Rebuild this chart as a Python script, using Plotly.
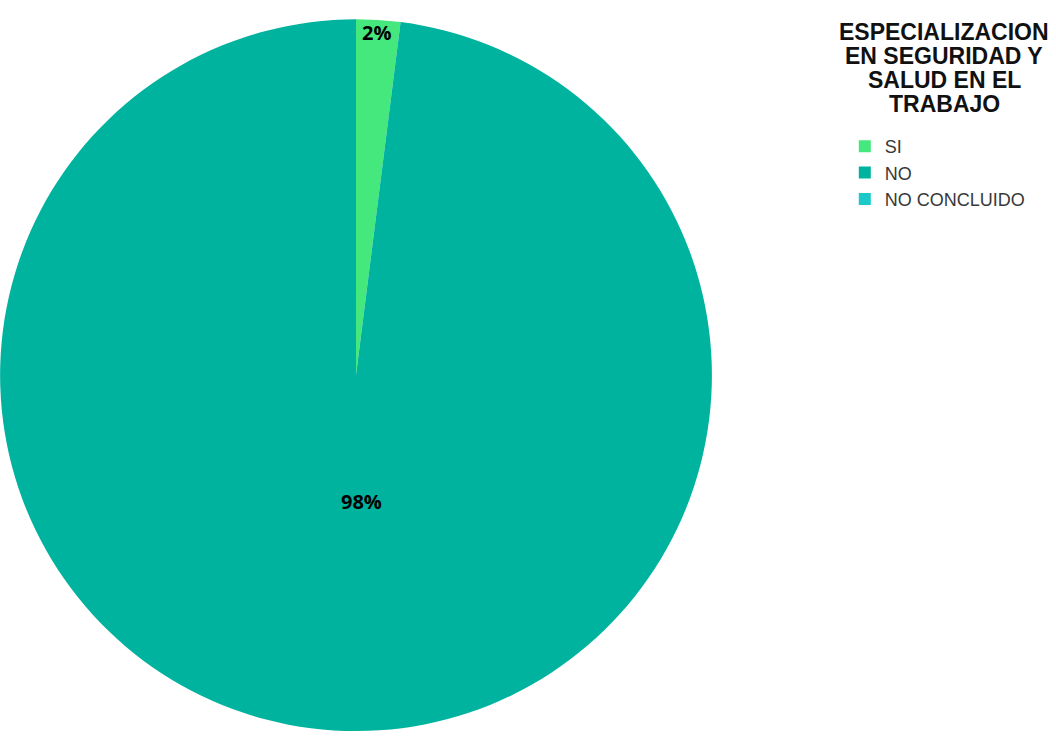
import plotly.graph_objects as go

# Specialization in occupational health & safety: share of respondents
categories = ["SI", "NO", "NO CONCLUIDO"]
shares = [2, 98, 0]
colors = ["#45E87C", "#00B39F", "#1BC9C9"]
title_lines = ["ESPECIALIZACION", "EN SEGURIDAD Y", "SALUD EN EL", "TRABAJO"]

W, H = 1056, 743

fig = go.Figure(
    go.Pie(
        labels=categories,
        values=shares,
        sort=False,
        direction="clockwise",
        rotation=0,
        marker=dict(colors=colors, line=dict(width=0)),
        textinfo="none",
        domain=dict(x=[0, 712 / W], y=[0.016, 0.974]),
        showlegend=True,
        hoverinfo="label+percent",
    )
)

# Percentage labels placed on the visible slices
label_pos = {"SI": (376, 33), "NO": (361, 501)}
for cat, val in zip(categories, shares):
    if cat in label_pos:
        px, py = label_pos[cat]
        fig.add_annotation(
            x=px / W, y=1 - py / H, xref="paper", yref="paper",
            text=f"<b>{val}%</b>", showarrow=False,
            font=dict(family="Open Sans", size=20, color="#000000"),
            xanchor="center", yanchor="middle",
        )

# Legend heading, one line at a time for tight line spacing
for i, line in enumerate(title_lines):
    fig.add_annotation(
        x=944 / W, y=1 - (32 + i * 24) / H, xref="paper", yref="paper",
        text=f"<b>{line}</b>", showarrow=False,
        font=dict(family="Liberation Sans", size=23, color="#111111"),
        xanchor="center", yanchor="middle",
    )

fig.update_layout(
    width=W,
    height=H,
    margin=dict(l=0, r=0, t=0, b=0),
    paper_bgcolor="white",
    plot_bgcolor="white",
    legend=dict(
        x=0.800,
        y=1 - 128 / H,
        xanchor="left",
        yanchor="top",
        font=dict(family="Liberation Sans", size=18, color="#383838"),
        itemwidth=30,
        tracegroupgap=0,
    ),
)

fig.write_html("out.html")
